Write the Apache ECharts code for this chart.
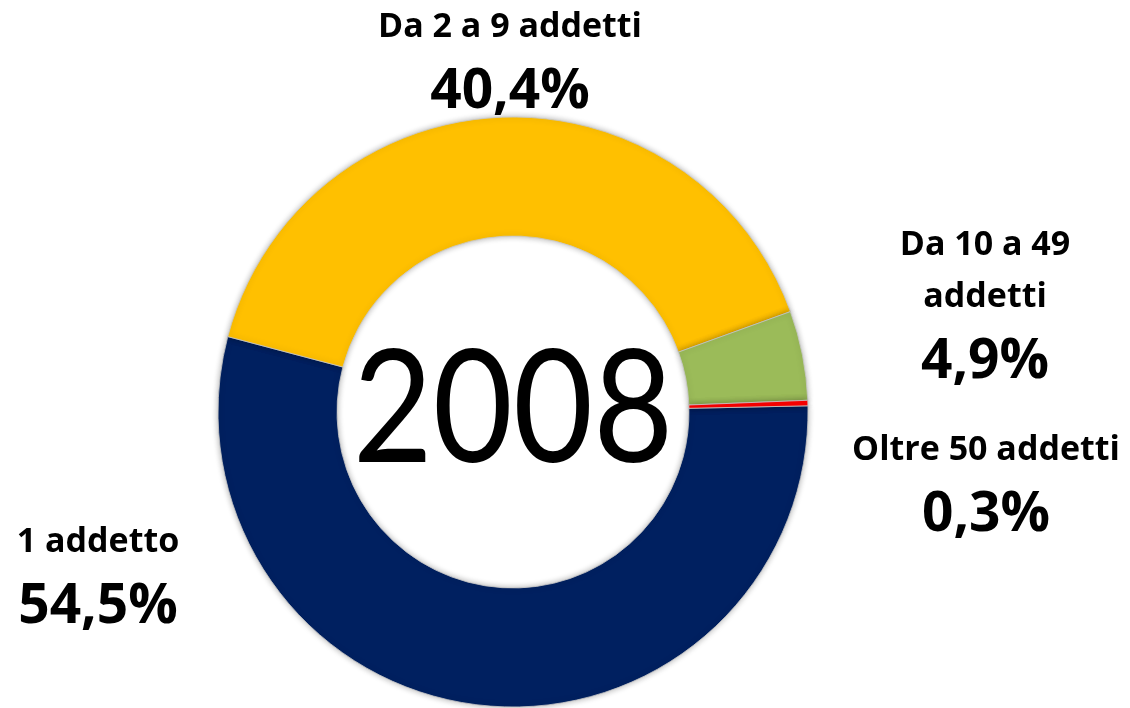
<!DOCTYPE html>
<html>
<head>
<meta charset="utf-8">
<script src="https://cdn.jsdelivr.net/npm/echarts@6/dist/echarts.min.js"></script>
<style>
  html, body { margin: 0; padding: 0; background: #fff; }
  #chart { width: 1130px; height: 708px; }
</style>
</head>
<body>
<div id="chart"></div>
<script>
// dati 2008
const categories = ["1 addetto", "Da 2 a 9 addetti", "Da 10 a 49\naddetti", "Oltre 50 addetti"];
const values = [54.5, 40.4, 4.9, 0.3];
const colors = ["#002060", "#FFC000", "#9BBB59", "#FF0000"];
const year = "2008";

// posizione (centro) delle etichette
const labelPos = [[98, 581], [510, 66], [985, 310], [986, 489]];

let chart = echarts.init(document.getElementById("chart"));
chart.setOption({
  animation: false,
  graphic: [
    {
      type: "text",
      x: 513,
      y: 411,
      scaleX: 0.88,
      style: {
        text: year,
        fontFamily: "Lato",
        fontWeight: "normal",
        fontSize: 157,
        fill: "#000",
        align: "center",
        verticalAlign: "middle"
      },
      z: 10
    }
  ],
  series: [
    {
      type: "pie",
      center: [513, 412],
      radius: [176, 295],
      startAngle: 1.2,
      clockwise: true,
      data: categories.map((c, i) => ({
        name: c,
        value: values[i],
        itemStyle: { color: colors[i] }
      })),
      itemStyle: {
        borderColor: "rgba(200,200,200,0.8)",
        borderWidth: 1,
        shadowBlur: 6,
        shadowColor: "rgba(0,0,0,0.3)"
      },
      labelLine: { show: false },
      label: {
        show: true,
        position: "outside",
        align: "center",
        formatter: p => "{n|" + p.name + "}\n{v|" + p.value.toFixed(1).replace(".", ",") + "%}",
        rich: {
          n: { fontFamily: "Open Sans", fontWeight: "bold", fontSize: 34, lineHeight: 52, color: "#000", align: "center" },
          v: { fontFamily: "Open Sans", fontWeight: "bold", fontSize: 55, lineHeight: 78, color: "#000", align: "center" }
        }
      },
      labelLayout: params => ({
        x: labelPos[params.dataIndex][0],
        y: labelPos[params.dataIndex][1],
        align: "center",
        verticalAlign: "middle",
        hideOverlap: false,
        moveOverlap: false
      })
    }
  ]
});
</script>
</body>
</html>
